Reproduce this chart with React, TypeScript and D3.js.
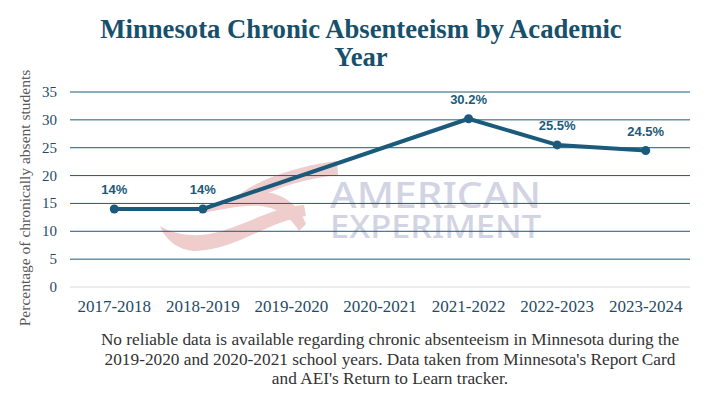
import * as d3 from 'd3';

const W = 705;
const H = 394;

const years = ['2017-2018', '2018-2019', '2019-2020', '2020-2021', '2021-2022', '2022-2023', '2023-2024'];
const absentPct: (number | null)[] = [14, 14, null, null, 30.2, 25.5, 24.5];
const pointLabels = ['14%', '14%', '', '', '30.2%', '25.5%', '24.5%'];
const yTicks = [0, 5, 10, 15, 20, 25, 30, 35];

const titleLines = ['Minnesota Chronic Absenteeism by Academic', 'Year'];
const noteLines = [
  'No reliable data is available regarding chronic absenteeism in Minnesota during the',
  "2019-2020 and 2020-2021 school years. Data taken from Minnesota's Report Card",
  "and AEI's Return to Learn tracker.",
];

const NAVY = '#1b5a7a';
const SERIF = 'Liberation Serif, Times New Roman, serif';
const SANS = 'Liberation Sans, Arial, sans-serif';

const margin = { top: 92, right: 15, bottom: 107, left: 70 };

export default function App() {
  const x = d3
    .scaleBand<string>()
    .domain(years)
    .range([margin.left, W - margin.right])
    .paddingInner(0)
    .paddingOuter(0);

  const y = d3.scaleLinear().domain([0, 35]).range([H - margin.bottom, margin.top]);

  const cx = (i: number) => (x(years[i]) ?? 0) + x.bandwidth() / 2;

  // the line skips the two missing years and joins 2018-19 straight to 2021-22
  const pts = absentPct
    .map((v, i) => ({ v, i }))
    .filter((d): d is { v: number; i: number } => d.v !== null);

  const line = d3
    .line<{ v: number; i: number }>()
    .x((d) => cx(d.i))
    .y((d) => y(d.v));

  return (
    <svg width={W} height={H} style={{ position: 'absolute', left: 0, top: 0, background: '#fff' }}>
      {/* title */}
      <text x={361} textAnchor="middle" style={{ fontFamily: SERIF }} fontWeight={700} fontSize={26.7} fill="#17506b">
        {titleLines.map((t, k) => (
          <tspan key={k} x={361} y={38 + k * 28}>
            {t}
          </tspan>
        ))}
      </text>

      {/* watermark */}
      <g fill="#f0cdcd">
        <path d="M232,200 C252,183 288,167 337,161 L338,175 C302,179 270,189 244,206 Z" />
        <path d="M198,214 C222,199 246,190 266,192 C287,195 300,208 306,224 L299,231 C290,216 276,207 260,206 C240,205 220,210 198,214 Z" />
        <path d="M160,226 C166,241 180,251 196,251 C236,250 266,222 306,216 L304,205 C266,208 236,232 201,235 C184,236 170,232 160,226 Z" />
      </g>
      <text x={330} y={208} style={{ fontFamily: 'Noto Sans' }} fontWeight={500} fontSize={36} fill="#d2d4e4" textLength={211} lengthAdjust="spacingAndGlyphs">
        AMERICAN
      </text>
      <text x={330} y={238} style={{ fontFamily: 'Noto Sans' }} fontWeight={500} fontSize={32} fill="#d2d4e4" textLength={211} lengthAdjust="spacingAndGlyphs">
        EXPERIMENT
      </text>

      {/* grid */}
      {yTicks.map((t) => (
        <g key={t}>
          <line
            x1={margin.left}
            x2={W - margin.right}
            y1={y(t)}
            y2={y(t)}
            stroke={t === 0 ? '#d9d9d9' : NAVY}
            strokeWidth={1}
          />
          <text x={57} y={y(t) + 5} textAnchor="end" style={{ fontFamily: SERIF }} fontSize={15} fill="#1f4b66">
            {t}
          </text>
        </g>
      ))}

      {/* x labels */}
      {years.map((yr, i) => (
        <text key={yr} x={cx(i)} y={312} textAnchor="middle" style={{ fontFamily: SERIF }} fontSize={17} fill="#1f4b66">
          {yr}
        </text>
      ))}

      {/* y title */}
      <text
        transform={`translate(30, ${198}) rotate(-90)`}
        textAnchor="middle"
        style={{ fontFamily: SERIF }}
        fontSize={15.5}
        fill="#595959"
      >
        Percentage of chronically absent students
      </text>

      {/* series */}
      <path d={line(pts) ?? ''} fill="none" stroke={NAVY} strokeWidth={4} strokeLinejoin="round" />
      {pts.map((d) => (
        <circle key={d.i} cx={cx(d.i)} cy={y(d.v)} r={4.5} fill={NAVY} />
      ))}
      {pts.map((d) => (
        <text
          key={`l${d.i}`}
          x={cx(d.i)}
          y={y(d.v) - 15}
          textAnchor="middle"
          style={{ fontFamily: SANS }}
          fontWeight={700}
          fontSize={13}
          fill={NAVY}
        >
          {pointLabels[d.i]}
        </text>
      ))}

      {/* note */}
      <text textAnchor="middle" style={{ fontFamily: SERIF }} fontSize={17.3} fill="#333">
        {noteLines.map((t, k) => (
          <tspan key={k} x={390} y={345 + k * 19.5}>
            {t}
          </tspan>
        ))}
      </text>
    </svg>
  );
}
